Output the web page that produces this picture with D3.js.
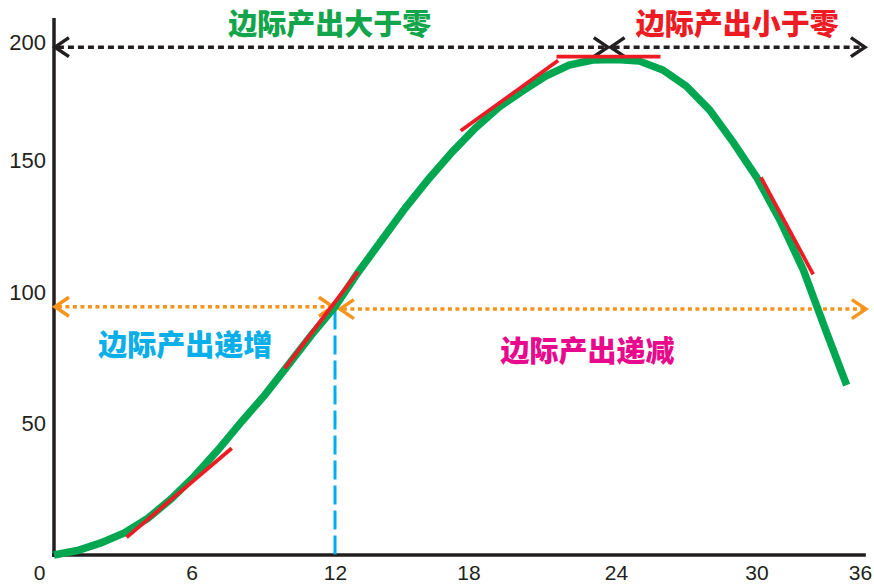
<!DOCTYPE html>
<html><head><meta charset="utf-8">
<script src="https://cdn.jsdelivr.net/npm/d3@7"></script>
<style>body{margin:0;background:#fff}</style>
</head><body>
<svg id="c" width="874" height="586"></svg>
<script>
// ---- data ----
const xTicks = [0, 6, 12, 18, 24, 30, 36];
const yTicks = [50, 100, 150, 200];
const curveX = [0,1,2,3,4,5,6,7,8,9,10,11,12,13,14,15,16,17,18,19,20,21,22,23,24,25,26,27,28,29,30,31,32,33,33.85];
const curveY = [0,1.7,4.6,8.4,13.9,21.3,30.0,39.9,50.6,60.8,72.2,83.7,94.4,107.6,119.8,131.9,143,153.2,162.4,170.3,176.4,182.1,186.3,188.2,188.4,187.8,184.4,178.3,169.2,157,143.7,127.4,108.4,84.4,64.6];
// tangent segments [x1, y1, x2, y2]
const tangents = [
  [3.1, 6.7, 7.59, 40.6],
  [9.86, 71.0, 12.98, 107.7],
  [17.37, 161.3, 21.53, 188.0],
  [21.46, 189.5, 25.9, 189.5],
  [30.19, 143.6, 32.42, 106.7]
];
// arrows [xStart, xEnd, y]
const blackArrows = [[0.04, 23.65, 193.1], [23.77, 34.63, 193.1]];
const orangeArrows = [[0.04, 11.91, 94.4], [12.21, 34.67, 93.5]];
const divider = [12, 93, 0];   // x, yTop, yBottom
const axisEnds = [34.67, 204.2];
const labels = [
  {text: "边际产出大于零", x: 11.78, y: 201.6, color: "#12a54b"},
  {text: "边际产出小于零", x: 29.18, y: 201.6, color: "#ed1c24"},
  {text: "边际产出递增",   x: 5.61,  y: 79.5,  color: "#0aaee8"},
  {text: "边际产出递减",   x: 22.78, y: 77.2,  color: "#e8098c"}
];

// ---- scales ----
const x = d3.scaleLinear().domain([0, 12]).range([54, 335]);
const y = d3.scaleLinear().domain([0, 200]).range([555, 29]);
const svg = d3.select("#c");
const ink = "#231f20";

// axes lines
svg.append("line").attr("x1", x(0)).attr("x2", x(0)).attr("y1", y(0) + 2).attr("y2", y(axisEnds[1]))
  .attr("stroke", ink).attr("stroke-width", 3.5);
svg.append("line").attr("x1", x(0) - 2).attr("x2", x(axisEnds[0])).attr("y1", y(0)).attr("y2", y(0))
  .attr("stroke", ink).attr("stroke-width", 3.5);

// y tick labels
const gy = svg.append("g").attr("transform", `translate(${x(0)},0)`)
  .call(d3.axisLeft(y).tickValues(yTicks).tickSize(0).tickPadding(8));
gy.select(".domain").remove();
gy.selectAll("text").attr("font-family", "Liberation Sans, Arial, sans-serif").attr("font-size", 22).attr("fill", ink)
  .attr("dy", d => d === 200 ? "0.92em" : "0.33em");

// x tick labels
const gx = svg.append("g").attr("transform", `translate(0,${y(0)})`)
  .call(d3.axisBottom(x).tickValues(xTicks).tickSize(0).tickPadding(10));
gx.select(".domain").remove();
gx.selectAll("text").attr("font-family", "Liberation Sans Narrow, Liberation Sans, Arial, sans-serif")
  .attr("font-size", 21).attr("fill", ink)
  .attr("transform", d => d === 0 ? "translate(-15,0)" : d === 36 ? `translate(${860 - x(36)},0)` : d === 18 ? "translate(-7,0)" : d === 6 ? "translate(-3,0)" : null);

// divider (blue dashed)
svg.append("line").attr("x1", x(divider[0])).attr("x2", x(divider[0]))
  .attr("y1", y(divider[1])).attr("y2", y(divider[2]))
  .attr("stroke", "#00aeef").attr("stroke-width", 3).attr("stroke-dasharray", "19,6");

// arrows
function arrow(a, color, dash) {
  const x1 = x(a[0]), x2 = x(a[1]), yy = y(a[2]);
  svg.append("line").attr("x1", x1 + 3).attr("x2", x2 - 3).attr("y1", yy).attr("y2", yy)
    .attr("stroke", color).attr("stroke-width", 3.5).attr("stroke-dasharray", dash);
  const head = (tx, dir) => svg.append("path")
    .attr("d", `M${tx + dir * 14},${yy - 9.5}L${tx},${yy}L${tx + dir * 14},${yy + 9.5}`)
    .attr("fill", "none").attr("stroke", color).attr("stroke-width", 3.5);
  head(x1, 1); head(x2, -1);
}
blackArrows.forEach(a => arrow(a, ink, "6,4"));
orangeArrows.forEach(a => arrow(a, "#f7941d", "4,3.5"));

// curve
const line = d3.line().x(d => x(d[0])).y(d => y(d[1]));
svg.append("path").datum(curveX.map((v, i) => [v, curveY[i]])).attr("d", line)
  .attr("fill", "none").attr("stroke", "#00a650").attr("stroke-width", 7.5).attr("stroke-linejoin", "miter");

// tangents
svg.selectAll(".tan").data(tangents).enter().append("line")
  .attr("x1", d => x(d[0])).attr("y1", d => y(d[1])).attr("x2", d => x(d[2])).attr("y2", d => y(d[3]))
  .attr("stroke", "#ed1c24").attr("stroke-width", 3.8);

// labels
svg.selectAll(".lab").data(labels).enter().append("text")
  .attr("x", d => x(d.x)).attr("y", d => y(d.y)).attr("dy", "0.36em")
  .attr("text-anchor", "middle").attr("font-family", "Noto Sans CJK SC").attr("font-weight", 900)
  .attr("font-size", 29).attr("fill", d => d.color).text(d => d.text);
</script>
</body></html>
